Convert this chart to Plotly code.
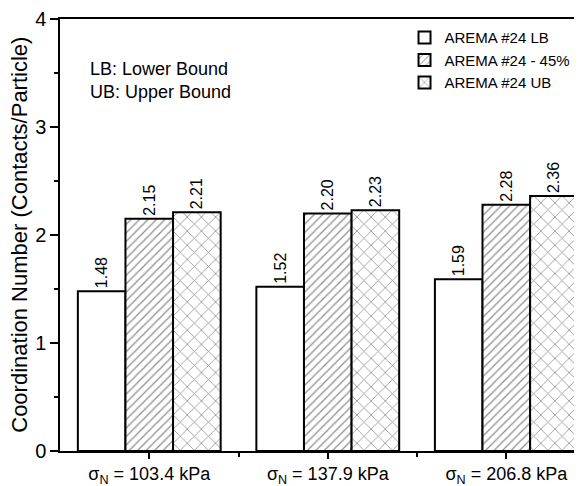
import plotly.graph_objects as go

categories = ["σ<sub>N</sub> = 103.4 kPa", "σ<sub>N</sub> = 137.9 kPa", "σ<sub>N</sub> = 206.8 kPa"]
series_names = ["AREMA #24 LB", "AREMA #24 - 45%", "AREMA #24 UB"]
lb_values = [1.48, 1.52, 1.59]
mid_values = [2.15, 2.20, 2.28]
ub_values = [2.21, 2.23, 2.36]
y_title = "Coordination Number (Contacts/Particle)"

x_pos = list(range(len(categories)))
font_family = "Liberation Sans, Arial, sans-serif"

fig = go.Figure()
patterns = ["", "/", "x"]
sizes = [8, 6, 10]
solid = [0.1, 0.2, 0.15]
for name, vals, pat, sz, so in zip(series_names, [lb_values, mid_values, ub_values], patterns, sizes, solid):
    fig.add_trace(go.Bar(
        x=x_pos, y=vals, name=name,
        marker=dict(color="white", line=dict(color="black", width=2),
                    pattern=dict(shape=pat, fgcolor="#1a1a1a", bgcolor="white", size=sz, solidity=so)),
        text=[f"{v:.2f}" for v in vals],
        textposition="outside", textangle=-90,
        textfont=dict(family=font_family, size=16, color="black"),
        cliponaxis=False,
    ))

fig.update_layout(
    width=582, height=486,
    margin=dict(l=52, r=8, t=11, b=43, autoexpand=False),
    plot_bgcolor="white", paper_bgcolor="white",
    barmode="group", bargap=0.2, bargroupgap=0,
    font=dict(family=font_family, color="black"),
    showlegend=True,
    legend=dict(x=0.66, y=0.995, xanchor="left", yanchor="top",
                font=dict(size=15, family=font_family), bgcolor="rgba(0,0,0,0)",
                tracegroupgap=0, itemsizing="constant"),
    xaxis=dict(range=[-0.5, 2.424], tickvals=x_pos, ticktext=categories, automargin=False,
               showline=True, linecolor="black", linewidth=1.5, mirror=True,
               ticks="outside", ticklen=6, tickwidth=1.5, tickcolor="black",
               minor=dict(tickvals=[0.5, 1.5], ticks="outside", ticklen=4, tickwidth=1.5, tickcolor="black"),
               showgrid=False, zeroline=False,
               tickfont=dict(size=18, family=font_family)),
    yaxis=dict(range=[0, 4], dtick=1, showline=True, linecolor="black", linewidth=1.5, automargin=False,
               mirror=False, ticks="outside", ticklen=8, tickwidth=1.5, tickcolor="black",
               minor=dict(dtick=0.5, ticks="outside", ticklen=4, tickwidth=1.5, tickcolor="black"),
               showgrid=False, zeroline=False,
               tickfont=dict(size=20, family=font_family)),
)

fig.add_annotation(x=-0.079, y=0.5, xref="paper", yref="paper", xanchor="center", yanchor="middle",
                   text=y_title, textangle=-90, showarrow=False,
                   font=dict(size=22, family=font_family))
fig.add_annotation(x=0.054, y=0.884, xref="paper", yref="paper", xanchor="left", yanchor="middle",
                   text="LB: Lower Bound", showarrow=False, font=dict(size=18, family=font_family))
fig.add_annotation(x=0.054, y=0.831, xref="paper", yref="paper", xanchor="left", yanchor="middle",
                   text="UB: Upper Bound", showarrow=False, font=dict(size=18, family=font_family))

fig.write_html("out.html")
